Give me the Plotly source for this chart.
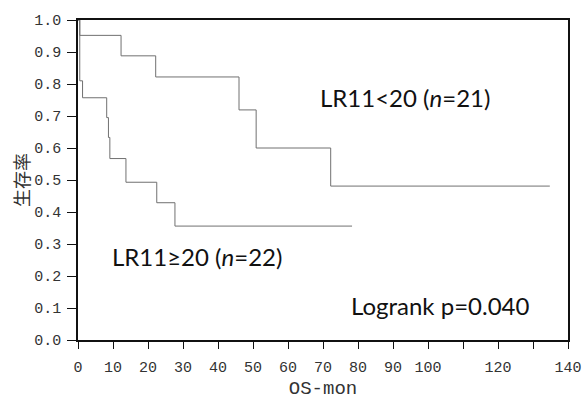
import plotly.graph_objects as go

# Data
low_t = [0, 0.5, 1.3, 8.2, 8.7, 9.1, 13.7, 22.5, 27.7, 78.3]
low_s = [1.0, 0.81, 0.757, 0.695, 0.633, 0.567, 0.493, 0.429, 0.356, 0.356]
high_t = [0, 0.5, 12.3, 22.2, 46.0, 50.9, 72.2, 134.8]
high_s = [1.0, 0.952, 0.888, 0.822, 0.719, 0.600, 0.481, 0.481]

x_ticks = [0, 10, 20, 30, 40, 50, 60, 70, 80, 90, 100, 110, 120, 130, 140]
x_labels = ["0", "10", "20", "30", "40", "50", "60", "70", "80", "90", "100", "", "120", "", "140"]
y_ticks = [0.0, 0.1, 0.2, 0.3, 0.4, 0.5, 0.6, 0.7, 0.8, 0.9, 1.0]
y_labels = ["0.0", "0.1", "0.2", "0.3", "0.4", "0.5", "0.6", "0.7", "0.8", "0.9", "1.0"]

line_color = "#707070"
fig = go.Figure()
fig.add_trace(go.Scatter(x=high_t, y=high_s, mode="lines", line_shape="hv",
                         line=dict(color=line_color, width=1), name="LR11<20"))
fig.add_trace(go.Scatter(x=low_t, y=low_s, mode="lines", line_shape="hv",
                         line=dict(color=line_color, width=1), name="LR11≥20"))

tick_font = dict(family="Liberation Mono, DejaVu Sans Mono, monospace", size=15, color="#333")
ann_font = dict(family="Lato, Open Sans, sans-serif", size=24, color="#111")

fig.update_layout(
    width=583, height=400,
    margin=dict(l=78, r=15, t=20, b=60),
    paper_bgcolor="white", plot_bgcolor="white",
    showlegend=False,
    xaxis=dict(range=[0, 140], tickvals=x_ticks, ticktext=x_labels,
               ticks="outside", ticklen=7, tickwidth=1, tickcolor="#111",
               ticklabelstandoff=5, automargin=False,
               showline=True, linecolor="#111", linewidth=1.5, mirror=True,
               showgrid=False, zeroline=False, tickfont=tick_font,
               title=dict(text="OS-mon", font=dict(family="Liberation Mono, DejaVu Sans Mono, monospace", size=19, color="#333"), standoff=6)),
    yaxis=dict(range=[0, 1.0], tickvals=y_ticks, ticktext=y_labels,
               ticks="outside", ticklen=9, tickwidth=1, tickcolor="#111",
               ticklabelstandoff=3, automargin=False,
               showline=True, linecolor="#111", linewidth=1.5, mirror=True,
               showgrid=False, zeroline=False, tickfont=tick_font,
               title=dict(text="生存率", font=dict(family="Noto Sans CJK JP", size=18, color="#333"), standoff=0)),
    annotations=[
        dict(x=93.4, y=0.757, xref="x", yref="y", text="LR11<20 (<i>n</i>=21)", showarrow=False, font=ann_font),
        dict(x=34, y=0.262, xref="x", yref="y", text="LR11≥20 (<i>n</i>=22)", showarrow=False, font=ann_font),
        dict(x=129.5, y=0.109, xref="x", yref="y", text="Logrank p=0.040", showarrow=False,
             font=ann_font, xanchor="right"),
    ],
)

fig.write_html("out.html")
